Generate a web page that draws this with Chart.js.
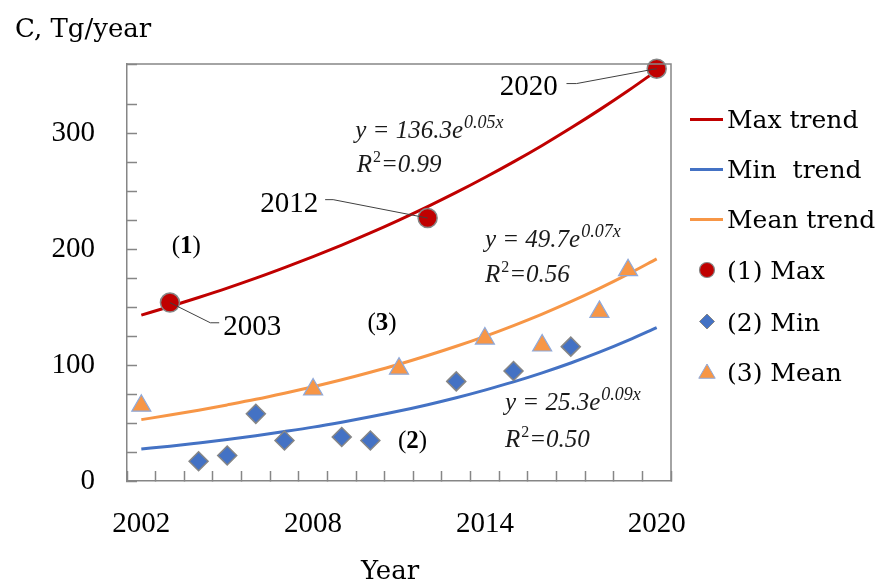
<!DOCTYPE html>
<html>
<head>
<meta charset="utf-8">
<script src="https://cdn.jsdelivr.net/npm/chart.js@4/dist/chart.umd.js"></script>
<style>
  html, body { margin: 0; padding: 0; background: #ffffff; }
  #wrap { width: 884px; height: 586px; position: relative; }
</style>
</head>
<body>
<div id="wrap"><canvas id="c"></canvas></div>
<script>
// ---------------- data ----------------
const years = ['2002','2003','2004','2005','2006','2007','2008','2009','2010','2011',
               '2012','2013','2014','2015','2016','2017','2018','2019','2020'];
const xTickLabels = ['2002','2008','2014','2020'];
const yTickLabels = [0, 100, 200, 300];

const maxTrend  = [143.2,150.6,158.4,166.5,175.1,184.2,193.7,203.7,214.2,225.3,236.9,249.1,262.0,275.5,289.7,304.7,320.4,336.9,354.3];
const minTrend  = [27.6,30.1,32.9,35.8,39.1,42.7,46.5,50.8,55.4,60.4,65.9,71.9,78.5,85.6,93.4,101.9,111.2,121.4,132.4];
const meanTrend = [53.0,56.9,61.1,65.7,70.5,75.8,81.4,87.4,93.9,100.8,108.3,116.3,124.9,134.2,144.1,154.8,166.3,178.6,191.8];

const maxValues  = [null,154,null,null,null,null,null,null,null,null,227,null,null,null,null,null,null,null,356];
const minValues  = [null,null,17,22,58,35,null,38,35,null,null,86,null,95,null,116,null,null,null];
const meanValues = [65,null,null,null,null,null,79,null,null,97,null,null,123,null,117,null,146,182,null];

const seriesNames = ['Max trend', 'Min  trend', 'Mean trend', '(1) Max', '(2) Min', '(3) Mean'];

// equation annotations: [xIndex, yValue(baseline), main, sup]
const equations = [
  [7.47, 295.7, 'y = 136.3e', '0.05x'],
  [12.0, 202.2, 'y = 49.7e',  '0.07x'],
  [12.7, 61.3,  'y = 25.3e',  '0.09x']
];
const r2Labels = [
  [7.52, 266.9, '=0.99'],
  [12.0, 172.0, '=0.56'],
  [12.7, 29.6,  '=0.50']
];
const groupLabels = [ [1.57, 196.7, '1'], [8.41, 130.3, '3'], [9.47, 28.5, '2'] ];
// year callouts: [text, textX, textBaseline, pointIndex, pointValue, elbowX, elbowY, endX]
const callouts = [
  ['2003', 2.86, 126.0, 1, 154, 2.41, 136.6, 2.72],
  ['2012', 4.15, 232.4, 10, 227, 6.70, 242.9, 6.42],
  ['2020', 12.52, 333.0, 18, 356, 15.2, 343.1, 14.85]
];

// ---------------- style ----------------
const RED = '#C00000', BLUE = '#4472C4', ORANGE = '#F79646', GRAY = '#868686';
const NUM_FONT = '"Liberation Serif", serif';
const WORD_FONT = '"DejaVu Serif", serif';

const annot = {
  id: 'annot',
  afterDraw(chart) {
    const ctx = chart.ctx, xs = chart.scales.x, ys = chart.scales.y;
    const X = v => xs.getPixelForValue(v), Y = v => ys.getPixelForValue(v);
    const a = chart.chartArea;
    ctx.save();
    // top & right border of the box
    ctx.strokeStyle = GRAY; ctx.lineWidth = 1.5;
    ctx.beginPath();
    ctx.moveTo(a.left, a.top); ctx.lineTo(a.right, a.top); ctx.lineTo(a.right, a.bottom);
    ctx.stroke();

    // callout leader lines
    ctx.strokeStyle = '#404040'; ctx.lineWidth = 1;
    callouts.forEach(c => {
      ctx.beginPath();
      ctx.moveTo(X(c[3]), Y(c[4]));
      ctx.lineTo(X(c[5]), Y(c[6]));
      ctx.lineTo(X(c[7]), Y(c[6]));
      ctx.stroke();
    });
    ctx.fillStyle = '#000';
    ctx.textBaseline = 'alphabetic';
    ctx.textAlign = 'left';
    ctx.font = '29px ' + NUM_FONT;
    callouts.forEach(c => ctx.fillText(c[0], X(c[1]), Y(c[2])));

    // equations
    ctx.fillStyle = '#1a1a1a';
    equations.forEach(e => {
      const x = X(e[0]), y = Y(e[1]);
      ctx.font = 'italic 25px ' + NUM_FONT;
      ctx.fillText(e[2], x, y);
      const w = ctx.measureText(e[2]).width;
      ctx.font = 'italic 18px ' + NUM_FONT;
      ctx.fillText(e[3], x + w + 1, y - 10);
    });
    r2Labels.forEach(r => {
      const x = X(r[0]), y = Y(r[1]);
      ctx.font = 'italic 25px ' + NUM_FONT;
      ctx.fillText('R', x, y);
      let w = ctx.measureText('R').width;
      ctx.font = '16px ' + NUM_FONT;
      ctx.fillText('2', x + w + 1, y - 10);
      w += ctx.measureText('2').width + 1;
      ctx.font = 'italic 25px ' + NUM_FONT;
      ctx.fillText(r[2], x + w, y);
    });

    // group labels (1) (2) (3)
    ctx.fillStyle = '#000';
    groupLabels.forEach(g => {
      const cx = X(g[0]), y = Y(g[1]);
      ctx.font = '25px ' + NUM_FONT;
      const pw = ctx.measureText('(').width;
      ctx.font = 'bold 25px ' + NUM_FONT;
      const dw = ctx.measureText(g[2]).width;
      const total = pw * 2 + dw;
      let x = cx - total / 2;
      ctx.font = '25px ' + NUM_FONT;
      ctx.fillText('(', x, y);
      ctx.font = 'bold 25px ' + NUM_FONT;
      ctx.fillText(g[2], x + pw, y);
      ctx.font = '25px ' + NUM_FONT;
      ctx.fillText(')', x + pw + dw, y);
    });

    // axis titles
    ctx.font = '26px ' + WORD_FONT;
    ctx.fillText('C, Tg/year', 15, 37);
    ctx.textAlign = 'center';
    ctx.fillText('Year', (a.left + a.right) / 2 - 9, 579);

    // legend
    ctx.textAlign = 'left';
    ctx.font = '25px ' + WORD_FONT;
    const lx0 = 690, lx1 = 723, tx = 727, mx = 707;
    const rows = [119.5, 169.5, 219.5, 270, 321.5, 371.5];
    const lineCols = [RED, BLUE, ORANGE];
    for (let i = 0; i < 3; i++) {
      ctx.strokeStyle = lineCols[i]; ctx.lineWidth = 3;
      ctx.beginPath(); ctx.moveTo(lx0, rows[i]); ctx.lineTo(lx1, rows[i]); ctx.stroke();
      ctx.fillStyle = '#000';
      ctx.fillText(seriesNames[i], tx, rows[i] + 8);
    }
    // circle
    ctx.beginPath(); ctx.arc(mx, rows[3], 7.5, 0, Math.PI * 2);
    ctx.fillStyle = RED; ctx.fill(); ctx.strokeStyle = GRAY; ctx.lineWidth = 1.2; ctx.stroke();
    // diamond
    const d = 7.5, yy = rows[4];
    ctx.beginPath(); ctx.moveTo(mx - d, yy); ctx.lineTo(mx, yy - d); ctx.lineTo(mx + d, yy); ctx.lineTo(mx, yy + d); ctx.closePath();
    ctx.fillStyle = BLUE; ctx.fill(); ctx.strokeStyle = GRAY; ctx.lineWidth = 1; ctx.stroke();
    // triangle
    const t = 9.5, ty = rows[5] + 2;
    ctx.beginPath(); ctx.moveTo(mx, ty - t); ctx.lineTo(mx + t * 0.866, ty + t / 2); ctx.lineTo(mx - t * 0.866, ty + t / 2); ctx.closePath();
    ctx.fillStyle = ORANGE; ctx.fill(); ctx.strokeStyle = '#8EA9DB'; ctx.lineWidth = 1; ctx.stroke();
    ctx.fillStyle = '#000';
    for (let i = 3; i < 6; i++) ctx.fillText(seriesNames[i], tx, rows[i] + 9);
    ctx.restore();
  }
};

new Chart(document.getElementById('c'), {
  type: 'line',
  data: {
    labels: years,
    datasets: [
      { label: seriesNames[3], data: maxValues, showLine: false, pointStyle: 'circle', pointRadius: 9.5,
        pointBackgroundColor: RED, pointBorderColor: GRAY, pointBorderWidth: 1.5, clip: false },
      { label: seriesNames[5], data: meanValues, showLine: false, pointStyle: 'triangle', pointRadius: 11,
        pointBackgroundColor: ORANGE, pointBorderColor: '#8EA9DB', pointBorderWidth: 1.2, clip: false },
      { label: seriesNames[4], data: minValues, showLine: false, pointStyle: 'rectRot', pointRadius: 9.5,
        pointBackgroundColor: BLUE, pointBorderColor: GRAY, pointBorderWidth: 1.5, clip: false },
      { label: seriesNames[0], data: maxTrend, borderColor: RED, borderWidth: 3, pointRadius: 0, cubicInterpolationMode: 'monotone', fill: false },
      { label: seriesNames[2], data: meanTrend, borderColor: ORANGE, borderWidth: 3, pointRadius: 0, cubicInterpolationMode: 'monotone', fill: false },
      { label: seriesNames[1], data: minTrend, borderColor: BLUE, borderWidth: 3, pointRadius: 0, cubicInterpolationMode: 'monotone', fill: false }
    ]
  },
  options: {
    responsive: true,
    maintainAspectRatio: false,
    animation: false,
    layout: { padding: { left: 0, top: 64, right: 213, bottom: 0 } },
    plugins: { legend: { display: false }, tooltip: { enabled: false } },
    scales: {
      x: {
        type: 'category',
        offset: true,
        grid: { display: true, offset: true, drawOnChartArea: false, drawTicks: true, tickLength: -10, tickColor: GRAY, tickWidth: 1.5 },
        border: { display: true, color: GRAY, width: 1.5 },
        ticks: {
          autoSkip: false, maxRotation: 0, padding: 36, color: '#000',
          font: { family: NUM_FONT, size: 29 },
          callback: function(v, i) { const l = years[i]; return xTickLabels.includes(l) ? l : ''; }
        },
        afterFit: s => { s.height = 105; }
      },
      y: {
        min: 0, max: 360,
        grid: { display: true, drawOnChartArea: false, drawTicks: true, tickLength: -10, tickColor: GRAY, tickWidth: 1.5 },
        border: { display: true, color: GRAY, width: 1.5 },
        ticks: {
          stepSize: 25, autoSkip: false, padding: 42, color: '#000',
          font: { family: NUM_FONT, size: 29 },
          callback: v => yTickLabels.includes(v) ? String(v) : ''
        },
        afterFit: s => { s.width = 127; }
      }
    }
  },
  plugins: [annot]
});
</script>
</body>
</html>
